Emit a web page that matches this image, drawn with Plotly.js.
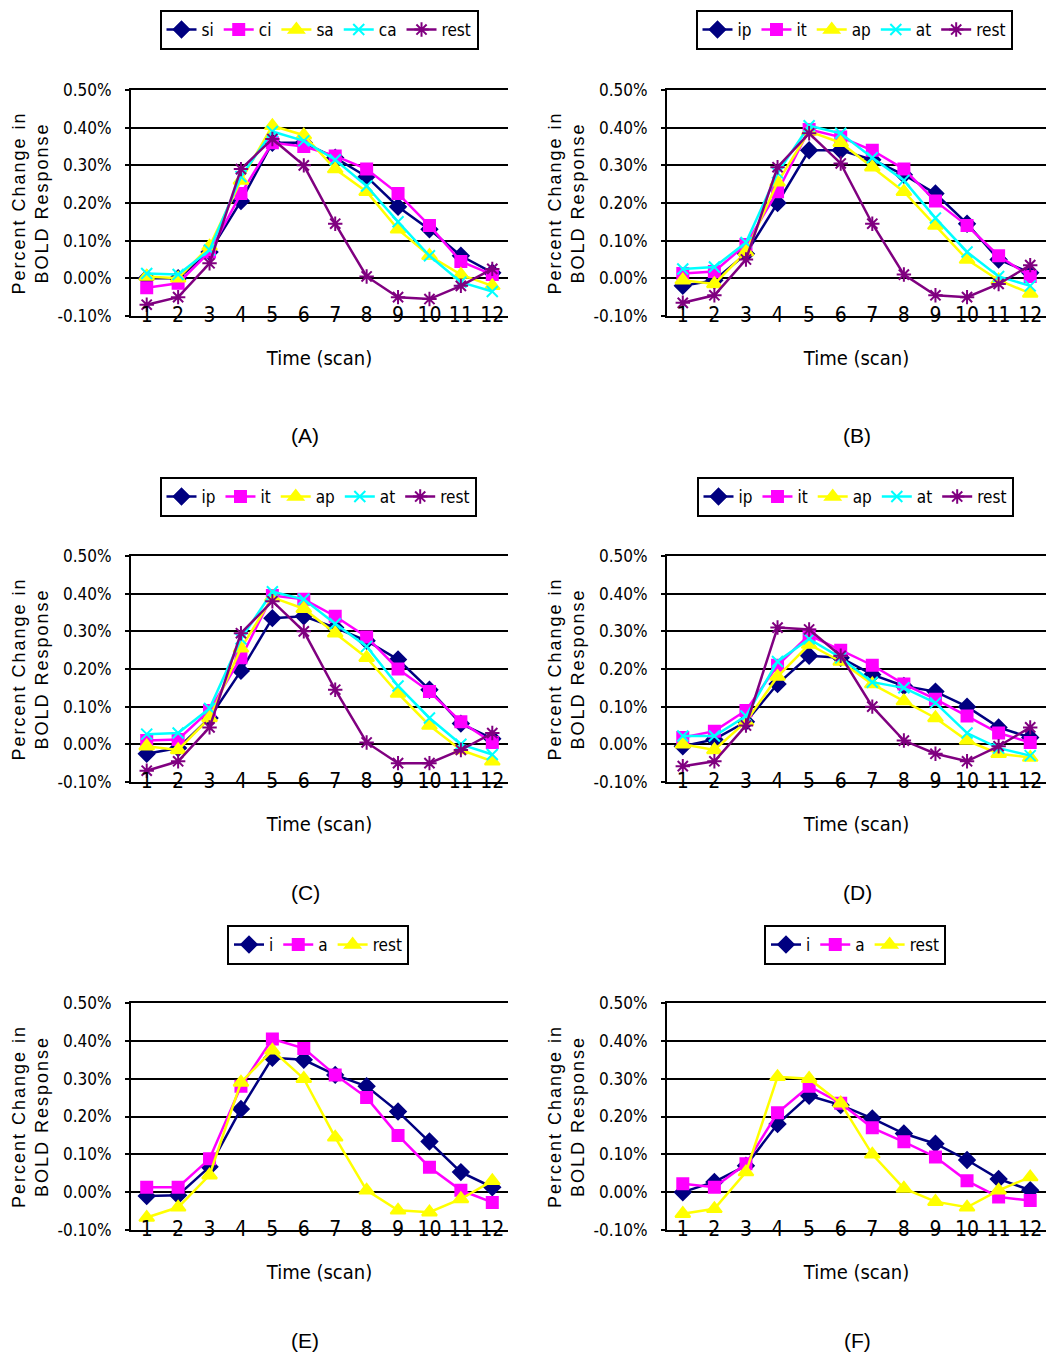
<!DOCTYPE html>
<html><head><meta charset="utf-8">
<script src="https://cdn.plot.ly/plotly-3.0.1.min.js"></script>
<style>
html,body{margin:0;padding:0;background:#fff}
#chart{width:1046px;height:1355px}
text[class^="y"][class$="title"]{letter-spacing:2px}
</style></head><body><div id="chart"></div>
<script>
const scans = [1,2,3,4,5,6,7,8,9,10,11,12];
const scanLabels = ['1','2','3','4','5','6','7','8','9','10','11','12'];
const yTicks = [-0.1,0,0.1,0.2,0.3,0.4,0.5];
const yTickLabels = ['-0.10%','0.00%','0.10%','0.20%','0.30%','0.40%','0.50%'];

// Panel A
const A_si   = [0.00,0.00,0.07,0.205,0.36,0.36,0.32,0.27,0.19,0.13,0.06,0.015];
const A_ci   = [-0.025,-0.013,0.07,0.225,0.36,0.35,0.325,0.29,0.225,0.14,0.045,0.01];
const A_sa   = [0.005,0.00,0.085,0.26,0.405,0.38,0.29,0.23,0.13,0.06,0.01,-0.02];
const A_ca   = [0.013,0.01,0.075,0.27,0.39,0.365,0.315,0.245,0.15,0.06,-0.01,-0.035];
const A_rest = [-0.07,-0.05,0.04,0.29,0.37,0.30,0.145,0.005,-0.05,-0.055,-0.02,0.025];
// Panel B
const B_ip   = [-0.02,-0.005,0.065,0.20,0.34,0.34,0.315,0.275,0.225,0.145,0.05,0.015];
const B_it   = [0.013,0.018,0.09,0.23,0.395,0.375,0.34,0.29,0.205,0.14,0.06,0.005];
const B_ap   = [-0.005,-0.015,0.07,0.255,0.39,0.36,0.295,0.23,0.14,0.05,-0.005,-0.04];
const B_at   = [0.025,0.03,0.095,0.28,0.405,0.385,0.32,0.26,0.16,0.07,0.005,-0.02];
const B_rest = [-0.065,-0.045,0.05,0.295,0.385,0.305,0.145,0.01,-0.045,-0.05,-0.015,0.035];
// Panel C
const C_ip   = [-0.025,-0.01,0.07,0.195,0.335,0.34,0.31,0.275,0.225,0.145,0.055,0.015];
const C_it   = [0.01,0.013,0.09,0.23,0.395,0.385,0.34,0.285,0.20,0.14,0.06,0.005];
const C_ap   = [-0.005,-0.015,0.07,0.255,0.39,0.36,0.295,0.23,0.135,0.05,-0.015,-0.045];
const C_at   = [0.027,0.03,0.095,0.28,0.405,0.385,0.32,0.26,0.155,0.07,0.0,-0.027];
const C_rest = [-0.07,-0.045,0.045,0.295,0.38,0.30,0.145,0.005,-0.05,-0.05,-0.015,0.03];
// Panel D
const D_ip   = [-0.005,0.013,0.06,0.16,0.235,0.23,0.185,0.155,0.14,0.10,0.045,0.018];
const D_it   = [0.018,0.035,0.09,0.21,0.29,0.25,0.21,0.16,0.12,0.075,0.03,0.005];
const D_ap   = [0.00,-0.015,0.06,0.18,0.265,0.22,0.16,0.115,0.07,0.01,-0.025,-0.035];
const D_at   = [0.022,0.022,0.075,0.22,0.28,0.23,0.165,0.15,0.11,0.03,-0.01,-0.03];
const D_rest = [-0.058,-0.045,0.05,0.31,0.305,0.235,0.10,0.01,-0.025,-0.045,-0.005,0.045];
// Panel E
const E_i    = [-0.01,-0.008,0.067,0.22,0.355,0.35,0.31,0.28,0.213,0.134,0.053,0.013];
const E_a    = [0.013,0.013,0.088,0.28,0.405,0.38,0.31,0.25,0.15,0.066,0.005,-0.027];
const E_rest = [-0.067,-0.04,0.045,0.29,0.375,0.30,0.145,0.005,-0.048,-0.053,-0.018,0.03];
// Panel F
const F_i    = [0.00,0.027,0.07,0.18,0.255,0.23,0.195,0.155,0.128,0.085,0.035,0.005];
const F_a    = [0.022,0.013,0.075,0.21,0.28,0.235,0.17,0.133,0.093,0.03,-0.013,-0.022];
const F_rest = [-0.057,-0.044,0.053,0.305,0.30,0.235,0.10,0.01,-0.025,-0.04,0.005,0.04];

const NARROW = '"Liberation Sans Narrow", "Arial Narrow", "DejaVu Sans Condensed", "Liberation Sans", sans-serif';
const REG = '"Liberation Sans", Arial, sans-serif';

const ST = {
  navy:    {color:'#000080', symbol:'diamond', size:12, lw:2.5},
  magenta: {color:'#FF00FF', symbol:'square', size:11, lw:2.5},
  yellow:  {color:'#FFFF00', symbol:'triangle-up', size:13, lw:2.5},
  cyan:    {color:'#00FFFF', symbol:'x-thin-open', size:11, lw:2.5},
  purple:  {color:'#800080', symbol:'asterisk-open', size:12, lw:2.5}
};

const W = 1046, H = 1355;
const cols = [[131,508],[667,1046]];
const rows = [[90,316],[556,782],[1003,1230]];
const panels = [
  {label:'(A)', col:0,row:0, legendTop:10, legendCx:319, series:[['si',A_si,'navy'],['ci',A_ci,'magenta'],['sa',A_sa,'yellow'],['ca',A_ca,'cyan'],['rest',A_rest,'purple']]},
  {label:'(B)', col:1,row:0, legendTop:10, legendCx:854, series:[['ip',B_ip,'navy'],['it',B_it,'magenta'],['ap',B_ap,'yellow'],['at',B_at,'cyan'],['rest',B_rest,'purple']]},
  {label:'(C)', col:0,row:1, legendTop:477, legendCx:318, series:[['ip',C_ip,'navy'],['it',C_it,'magenta'],['ap',C_ap,'yellow'],['at',C_at,'cyan'],['rest',C_rest,'purple']]},
  {label:'(D)', col:1,row:1, legendTop:477, legendCx:855, series:[['ip',D_ip,'navy'],['it',D_it,'magenta'],['ap',D_ap,'yellow'],['at',D_at,'cyan'],['rest',D_rest,'purple']]},
  {label:'(E)', col:0,row:2, legendTop:925, legendCx:318, series:[['i',E_i,'navy'],['a',E_a,'magenta'],['rest',E_rest,'yellow']]},
  {label:'(F)', col:1,row:2, legendTop:925, legendCx:855, series:[['i',F_i,'navy'],['a',F_a,'magenta'],['rest',F_rest,'yellow']]}
];
const labelPos = [[305,435],[857,435],[305,893],[857,893],[305,1340],[857,1340]];

const boundaries = [scans[0]-0.5].concat(scans.map(s => s + 0.5));

const data = [];
const layout = {
  width: W, height: H,
  margin: {l:0,r:0,t:0,b:0},
  paper_bgcolor:'#fff', plot_bgcolor:'#fff',
  showlegend: true,
  annotations: []
};

panels.forEach((p, i) => {
  const n = i + 1;
  const xs = n === 1 ? '' : n;
  const xd = [cols[p.col][0]/W, cols[p.col][1]/W];
  const yd = [1 - rows[p.row][1]/H, 1 - rows[p.row][0]/H];
  const legName = n === 1 ? 'legend' : 'legend' + n;
  p.series.forEach(([name, vals, sk]) => {
    const s = ST[sk];
    data.push({
      type:'scatter', mode:'lines+markers', name: name,
      x: scans, y: vals, xaxis:'x'+xs, yaxis:'y'+xs, legend: legName,
      line:{color:s.color, width:s.lw},
      marker:{color:s.color, symbol:s.symbol, size:s.size, line:{color:s.color, width:2}},
      hoverinfo:'skip'
    });
  });
  layout['xaxis'+xs] = {
    domain: xd, anchor:'y'+xs, range:[0.5,12.5],
    showline:true, mirror:true, linecolor:'#000', linewidth:2,
    showgrid:false, zeroline:false,
    tickmode:'array', tickvals:scans, ticktext:scanLabels, ticks:'',
    ticklabelstandoff:-21,
    tickfont:{family:NARROW, size:21, color:'#000'},
    title:{text:'Time (scan)', font:{family:NARROW, size:20, color:'#000'}, standoff:25},
    fixedrange:true
  };
  layout['yaxis'+xs] = {
    domain: yd, anchor:'x'+xs, range:[-0.1,0.5],
    tickmode:'array', tickvals:yTicks, ticktext:yTickLabels,
    showgrid:true, gridcolor:'#000', gridwidth:2,
    showline:true, linecolor:'#000', linewidth:2,
    ticks:'outside', ticklen:4, tickwidth:2, tickcolor:'#000',
    zeroline:false, ticklabelstandoff:10,
    tickfont:{family:NARROW, size:17, color:'#000'},
    title:{text:'Percent Change in<br>BOLD Response', font:{family:REG, size:18, color:'#000'}, standoff:4},
    fixedrange:true
  };
  // zero-crossing category axis with tick marks between categories
  const zn = n + 6;
  layout['xaxis'+zn] = {
    overlaying:'x'+xs, anchor:'free', position: yd[0] + (yd[1]-yd[0])/6,
    range:[0.5,12.5], showline:true, linecolor:'#000', linewidth:2,
    showgrid:false, zeroline:false, showticklabels:false,
    tickmode:'array', tickvals:boundaries, ticks:'inside', ticklen:6, tickwidth:2, tickcolor:'#000',
    fixedrange:true
  };
  layout[legName] = {
    orientation:'h', x: p.legendCx/W, xanchor:'center', y: 1 - p.legendTop/H, yanchor:'top',
    bordercolor:'#000', borderwidth:2, bgcolor:'#fff',
    font:{family:NARROW, size:17, color:'#000'},
    itemwidth:30, tracegroupgap:0
  };
  layout.annotations.push({
    xref:'paper', yref:'paper', x: labelPos[i][0]/W, y: 1 - labelPos[i][1]/H,
    xanchor:'center', yanchor:'middle', showarrow:false,
    text: p.label, font:{family:REG, size:21, color:'#000'}
  });
});

Plotly.newPlot('chart', data, layout, {staticPlot:true, displayModeBar:false});
</script></body></html>
